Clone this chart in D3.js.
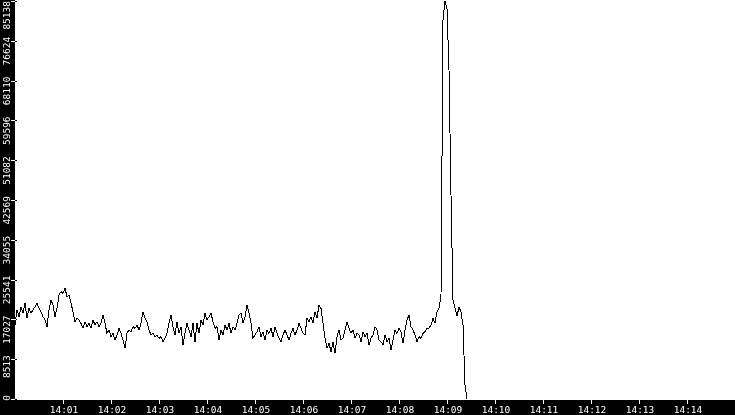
<!DOCTYPE html>
<html lang="en">
<head>
    <meta charset="UTF-8">
    <title>Rate</title>
    <style>
        body {
            margin: 0;
            padding: 0;
            background-color: #ffffff;
            overflow: hidden;
        }
        .axis-label {
            font-family: 'DejaVu Sans Mono', monospace;
            font-size: 9.5px;
            fill: #ffffff;
        }
    </style>
</head>
<body>
    <script src="https://d3js.org/d3.v7.min.js"></script>
    <script>
        const width = 735;
        const height = 415;
        const barLeft = 15;
        const barBottom = 15;

        // samples every 2.5 s starting at 14:00:00
        const startTime = new Date(2020, 0, 1, 14, 0, 0);
        const endTime = new Date(2020, 0, 1, 14, 15, 0);
        const sampleMs = 2500;

        const valuesPart1 = [
            15829, 19037, 17611, 19750, 18324, 20463, 17255, 19394, 18324, 19037,
            19750, 20463, 19394, 18681, 17611, 16898, 15472, 19037, 21176, 20107,
            17611, 19394, 22246, 22958, 22602, 23672, 21889, 22246, 20463, 18681,
            16542, 17255, 16898, 16185, 15116, 16542, 15472, 16185, 15116, 16898,
            15829, 16542, 15472, 16185, 17968, 16185, 14046, 14759, 13333, 14046,
            12620, 13690, 15116, 14046, 12620, 10838, 14046, 14759, 14403, 15472,
            15116, 15829, 14759, 16185, 18681, 17255, 16542, 14759, 13690, 14046,
            13333, 13690, 12977, 13333, 12264, 12977, 14046, 16185, 17968, 15472,
            13690, 16542, 14046, 15472, 11551, 14046, 16185, 14759, 13333, 16185,
            12264, 16185, 14046, 16898, 15829, 18324, 16898, 17611, 18324, 16542,
            15116, 15472, 12620, 14759, 13690, 15829, 14759, 16185, 14046, 15472,
            14759, 16185, 17968
        ];
        const valuesPart2 = [
            18324, 16185, 17611, 20107, 18324, 16185, 12977, 13690, 14403, 15472,
            13333, 14403, 12620, 14759, 14046, 15116, 13333, 15472, 14046, 12977,
            12264, 13690, 14759, 13690, 12620, 14046, 15116, 13690, 14759, 16185,
            15116, 14046, 13690, 17255, 16542, 17611, 16185, 18681, 17255, 20107,
            19394, 16185, 12977, 10838, 11907, 10125, 12264, 9768, 13333, 14759,
            12620, 12977, 14759, 16542, 15116, 14046, 14759, 12977, 14046, 13690,
            12264, 14403, 13333, 14046, 11551, 12977, 13690, 15472, 14759, 12620,
            12264, 11551, 13690, 12264, 12977, 10481, 12620, 14759, 14046, 15116,
            14403, 11907, 14759, 16898, 17968, 15472, 14759, 13690, 12264, 13333,
            12977, 14046, 14403, 15116, 15116, 15829, 17255, 16185, 18681, 19394
        ];
        const valuesPart3 = [
            22031, 81068, 85138, 83500, 70373, 43636, 21176, 19465, 17754, 19679,
            18609, 15829, 2995, 0
        ];

        const yTicks = [0, 8513, 17027, 25541, 34055, 42569, 51082, 59596, 68110, 76624, 85138];
        const xTickMinutes = [1, 2, 3, 4, 5, 6, 7, 8, 9, 10, 11, 12, 13, 14];

        const values = valuesPart1.concat(valuesPart2, valuesPart3);
        const data = values.map((v, i) => ({
            time: new Date(startTime.getTime() + i * sampleMs),
            value: v
        }));

        const svg = d3.select("body")
            .append("svg")
            .attr("width", width)
            .attr("height", height)
            .style("display", "block");

        const x = d3.scaleTime()
            .domain([startTime, endTime])
            .range([barLeft, width]);

        const y = d3.scaleLinear()
            .domain([0, d3.max(yTicks)])
            .range([height - barBottom - 1, 1]);

        const line = d3.line()
            .x(d => x(d.time))
            .y(d => y(d.value));

        svg.append("path")
            .datum(data)
            .attr("fill", "none")
            .attr("stroke", "#000000")
            .attr("stroke-width", 1)
            .attr("shape-rendering", "crispEdges")
            .attr("d", line);

        // black axis bars
        svg.append("rect")
            .attr("x", 0)
            .attr("y", 0)
            .attr("width", barLeft)
            .attr("height", height)
            .attr("fill", "#000000");

        svg.append("rect")
            .attr("x", 0)
            .attr("y", height - barBottom)
            .attr("width", width)
            .attr("height", barBottom)
            .attr("fill", "#000000");

        // y axis
        const yAxis = svg.append("g");

        yAxis.selectAll("line")
            .data(yTicks)
            .enter()
            .append("line")
            .attr("x1", 11)
            .attr("x2", 17)
            .attr("y1", d => Math.round(y(d)) + 0.5)
            .attr("y2", d => Math.round(y(d)) + 0.5)
            .attr("stroke", "#ffffff")
            .style("mix-blend-mode", "difference");

        yAxis.selectAll("text")
            .data(yTicks)
            .enter()
            .append("text")
            .attr("class", "axis-label")
            .attr("text-anchor", "end")
            .attr("transform", d => `translate(9.5,${Math.max(y(d) - 4, 1)}) rotate(-90)`)
            .text(d => d);

        // x axis
        const xTimes = xTickMinutes.map(m => new Date(startTime.getTime() + m * 60000));
        const fmt = d3.timeFormat("%H:%M");
        const xAxis = svg.append("g");

        xAxis.selectAll("line")
            .data(xTimes)
            .enter()
            .append("line")
            .attr("x1", d => Math.round(x(d)) + 0.5)
            .attr("x2", d => Math.round(x(d)) + 0.5)
            .attr("y1", height - barBottom)
            .attr("y2", height - barBottom + 4)
            .attr("stroke", "#ffffff");

        xAxis.selectAll("text")
            .data(xTimes)
            .enter()
            .append("text")
            .attr("class", "axis-label")
            .attr("text-anchor", "middle")
            .attr("x", d => x(d) + 1)
            .attr("y", height - 2)
            .text(d => fmt(d));
    </script>
</body>
</html>
